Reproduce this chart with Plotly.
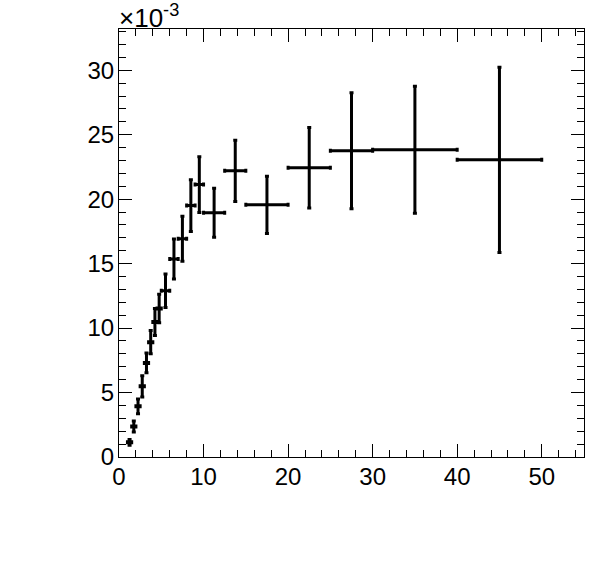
import plotly.graph_objects as go

# bin centres and half-widths
x_centers = [1.25, 1.75, 2.25, 2.75, 3.25, 3.75, 4.25, 4.75,
             5.5, 6.5, 7.5, 8.5, 9.5, 11.25, 13.75, 17.5, 22.5, 27.5, 35, 45]
x_halfwidth = [0.25] * 8 + [0.5] * 5 + [1.25, 1.25, 2.5, 2.5, 2.5, 5, 5]
# values in units of 1e-3
y_values = [1.14, 2.36, 3.93, 5.48, 7.30, 8.91, 10.47, 11.52,
            12.90, 15.36, 16.93, 19.50, 21.13, 18.94, 22.20, 19.56, 22.43, 23.76, 23.83, 23.05]
y_errors = [0.22, 0.43, 0.57, 0.82, 0.76, 0.90, 1.04, 1.10,
            1.30, 1.55, 1.75, 2.00, 2.17, 1.90, 2.38, 2.22, 3.12, 4.50, 4.93, 7.19]

fig = go.Figure()
fig.add_trace(go.Scatter(
    x=x_centers, y=y_values, mode="markers",
    marker=dict(size=3, color="black"),
    error_x=dict(type="data", array=x_halfwidth, color="black", thickness=3, width=2),
    error_y=dict(type="data", array=y_errors, color="black", thickness=3, width=2),
    showlegend=False,
))

font = "Liberation Sans, Arial, Helvetica, sans-serif"
fig.update_layout(
    width=596, height=572,
    margin=dict(l=119, r=12, t=29, b=115),
    paper_bgcolor="white", plot_bgcolor="white",
    font=dict(family=font, size=24, color="black"),
    xaxis=dict(range=[0, 55], tick0=0, dtick=10, ticks="inside", ticklen=13,
               tickcolor="black", showline=True, linecolor="black", linewidth=1,
               mirror="allticks", showgrid=False, zeroline=False, automargin=False,
               ticklabelstandoff=-2,
               minor=dict(ticks="inside", ticklen=7, dtick=2, tickcolor="black", showgrid=False),
               tickfont=dict(size=24, family=font)),
    yaxis=dict(range=[0, 33.2], tick0=0, dtick=5, ticks="inside", ticklen=13,
               tickcolor="black", showline=True, linecolor="black", linewidth=1,
               mirror="allticks", showgrid=False, zeroline=False, automargin=False,
               ticklabelstandoff=-1,
               minor=dict(ticks="inside", ticklen=7, dtick=1, tickcolor="black", showgrid=False),
               tickfont=dict(size=24, family=font)),
    annotations=[dict(text="×10<sup>-3</sup>", xref="paper", yref="paper",
                      x=0, y=1, xanchor="left", yanchor="bottom", yshift=-6, xshift=-2,
                      showarrow=False, font=dict(size=26, family=font))],
)

fig.write_html("out.html", config={"displayModeBar": False},
               post_script="document.body.style.margin='0';document.body.style.padding='0';")
